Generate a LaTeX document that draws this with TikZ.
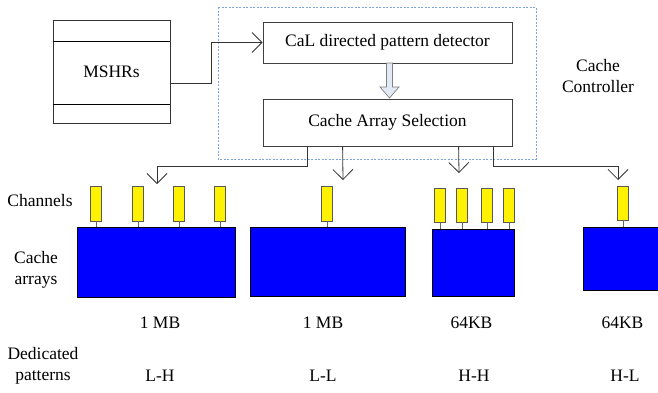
\documentclass[tikz,border=0pt]{standalone}
\usepackage{fontspec}
\setmainfont{Liberation Serif}
\newfontfamily\timesfont{Liberation Serif}
\usepackage{tikz}
\usetikzlibrary{
  arrows.meta,
  positioning,
  calc
}
\definecolor{ctrlblue}{RGB}{125,165,225}
\definecolor{fatblue}{RGB}{226,234,246}
\tikzset{
  box/.style    = {draw=black!75, line width=0.8pt, minimum width=249pt, inner sep=0pt, font=\timesfont\fontsize{17.5}{21}\selectfont},
  chan/.style   = {draw=black!65, fill=yellow, line width=0.7pt, minimum width=11pt, minimum height=35pt, inner sep=0pt},
  carray/.style = {draw=black, fill=blue, line width=0.8pt, inner sep=0pt},
  lbl/.style    = {font=\timesfont\fontsize{17.5}{21}\selectfont, align=center, inner sep=0pt},
  link/.style   = {line width=0.8pt, draw=black!80, -{Straight Barb[length=10pt, width=20pt]}},
  stem/.style   = {line width=0.7pt, draw=black!60},
  fat/.style    = {draw=black!50, fill=fatblue, line width=0.7pt}
}

\begin{document}
\begin{tikzpicture}[x=1pt, y=-1pt]
  \clip (0,0) rectangle (658,392);

  % Cache controller
  \draw [ctrlblue, line width=0.6pt, dash pattern=on 2pt off 1.5pt] (218,7) rectangle (536,159);
  \node [box, minimum height=41pt] (cal) at (387.5,42.5) {CaL directed pattern detector};
  \node [box, minimum height=47pt] (sel) at (387.5,122.5) {Cache Array Selection};
  \node [lbl] (ctrl) at (598,76) {Cache\\Controller};
  \draw [fat] (386.5,63) -- (392.5,63) -- (392.5,87) -- (399,87) -- (389.5,98) -- (380,87) -- (386.5,87) -- cycle;

  % MSHRs
  \node [draw=black!80, line width=0.8pt, minimum width=117pt, minimum height=103pt, font=\timesfont\fontsize{17.5}{21}\selectfont] (mshr) at (111.5,71.5) {MSHRs};
  \draw [line width=0.8pt] ([yshift=-22pt]mshr.north west) -- ([yshift=-22pt]mshr.north east);
  \draw [line width=0.8pt] ([yshift=19pt]mshr.south west) -- ([yshift=19pt]mshr.south east);
  \draw [link] ([yshift=-12pt]mshr.east) -- ++(41,0) |- (cal.west);

  % Cache arrays
  \node [carray, minimum width=158pt, minimum height=70pt] (a1) at (156,262) {};
  \node [carray, minimum width=155pt, minimum height=69pt] (a2) at (327.5,262) {};
  \node [carray, minimum width=82pt, minimum height=67pt] (a3) at (473,262.5) {};
  \node [carray, minimum width=80pt, minimum height=63pt] (a4) at (623,258.5) {};

  % Channels
  \foreach \x [count=\i] in {96,138,179,220} {
    \node [chan] (c1\i) at (\x,203.5) {};
    \draw [stem] (c1\i.south) -- (c1\i.south |- a1.north);
  }
  \node [chan] (c21) at (327,203.5) {};
  \draw [stem] (c21.south) -- (c21.south |- a2.north);
  \foreach \x [count=\i] in {440,462,487,509} {
    \node [chan, minimum height=34pt] (c3\i) at (\x,205) {};
    \draw [stem] (c3\i.south) -- (c3\i.south |- a3.north);
  }
  \node [chan, minimum height=34pt] (c41) at (623,203) {};
  \draw [stem] (c41.south) -- (c41.south |- a4.north);

  % Array selection
  \coordinate (d1) at (157,184);
  \coordinate (d2) at (343,180);
  \coordinate (d3) at (459,173);
  \coordinate (d4) at (618,180);
  \draw [link] ([xshift=45pt]sel.south west) |- ($(d1)+(0,-18)$) -- (d1);
  \draw [link] ([xshift=80pt]sel.south west) -- (d2);
  \draw [link] ([xshift=196pt]sel.south west) -- (d3);
  \draw [link] ([xshift=231pt]sel.south west) |- ($(d4)+(0,-14)$) -- (d4);

  % Labels
  \node [lbl] (lchan) at (40,201) {Channels};
  \node [lbl] (larr)  at (36,269.5) {Cache\\arrays};
  \node [lbl] (lded)  at (43,365.5) {Dedicated\\patterns};
  \node [lbl] (s1) at (160,323) {1 MB};
  \node [lbl] (s2) at (323,323) {1 MB};
  \node [lbl] (s3) at (471.5,323) {64KB};
  \node [lbl] (s4) at (622.5,323) {64KB};
  \node [lbl] (p1) at (160,376) {L-H};
  \node [lbl] (p2) at (323,376) {L-L};
  \node [lbl] (p3) at (474,376) {H-H};
  \node [lbl] (p4) at (625,376) {H-L};
\end{tikzpicture}
\end{document}
